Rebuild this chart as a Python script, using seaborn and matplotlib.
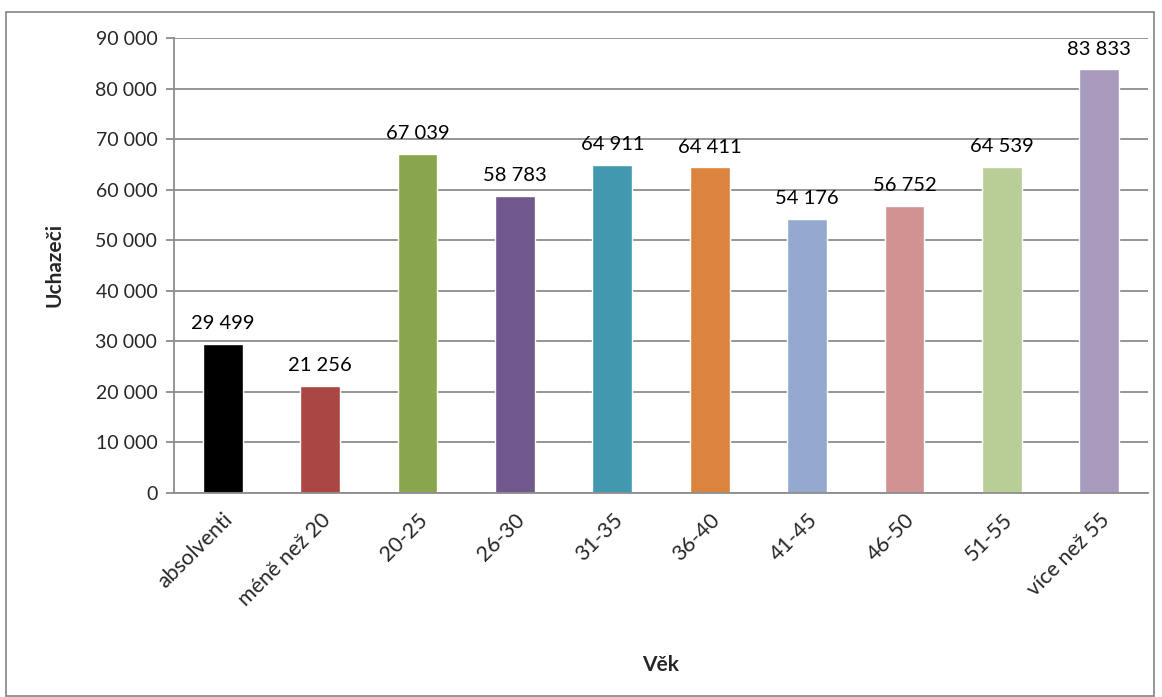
import matplotlib
matplotlib.use("Agg")
import matplotlib.pyplot as plt
import seaborn as sns
import pandas as pd
from matplotlib.patches import Rectangle

# data
categories = ['absolventi', 'méně než 20', '20-25', '26-30', '31-35', '36-40',
              '41-45', '46-50', '51-55', 'více než 55']
uchazeci = [29499, 21256, 67039, 58783, 64911, 64411, 54176, 56752, 64539, 83833]
colors = ['#000000', '#AA4643', '#89A54E', '#71588F', '#4198AF', '#DB843D',
          '#93A9CF', '#D19392', '#B9CD96', '#A99BBD']
yticks = list(range(0, 90001, 10000))

df = pd.DataFrame({'vek': categories, 'uchazeci': uchazeci})

sns.set_style('white')
plt.rcParams['font.family'] = ['Lato', 'DejaVu Sans']

fig = plt.figure(figsize=(11.62, 6.97), dpi=100)
ax = fig.add_axes([0.1497, 0.2927, 0.988 - 0.1497, 0.9455 - 0.2927])

sns.barplot(data=df, x='vek', y='uchazeci', hue='vek', palette=colors,
            legend=False, width=0.41, ax=ax, zorder=3, saturation=1)

def fmt(v):
    return f'{v:,}'.replace(',', ' ')

for i, v in enumerate(uchazeci):
    ax.text(i, v + 2300, fmt(v), ha='center', va='bottom', fontsize=14.5, color='#000000')

grid_c = '#8C8C8C'
ax.set_ylim(0, 90000)
ax.set_xlim(-0.5, len(categories) - 0.5)
ax.set_yticks(yticks)
ax.set_yticklabels([fmt(t) for t in yticks], fontsize=14)
ax.yaxis.grid(True, color=grid_c, linewidth=1.3, zorder=0)
ax.xaxis.grid(False)

ax.set_xticks(range(len(categories)))
ax.set_xticklabels(categories, rotation=45, ha='right', rotation_mode='anchor', fontsize=15.5)
ax.set_xticks([i - 0.5 for i in range(len(categories) + 1)], minor=True)
ax.tick_params(axis='x', which='major', length=0, pad=12)
ax.tick_params(axis='x', which='minor', length=6, width=1.3, color=grid_c)
ax.tick_params(axis='y', length=6, width=1.3, color=grid_c, left=True, pad=6)

for s in ['top', 'right']:
    ax.spines[s].set_visible(False)
for s in ['left', 'bottom']:
    ax.spines[s].set_color(grid_c)
    ax.spines[s].set_linewidth(1.3)
    ax.spines[s].set_zorder(4)

ax.set_xlabel('Věk', fontsize=15, fontweight='bold')
ax.xaxis.set_label_coords(0.5, -0.355)
ax.set_ylabel('Uchazeči', fontsize=15, fontweight='bold', labelpad=22)

fig.patches.append(Rectangle((6 / 1162, 0.002), 1148 / 1162, 1 - 12 / 697 - 0.002,
                             transform=fig.transFigure, fill=False,
                             edgecolor='#8C8C8C', linewidth=1.3))

fig.savefig('out.png', dpi=100)
